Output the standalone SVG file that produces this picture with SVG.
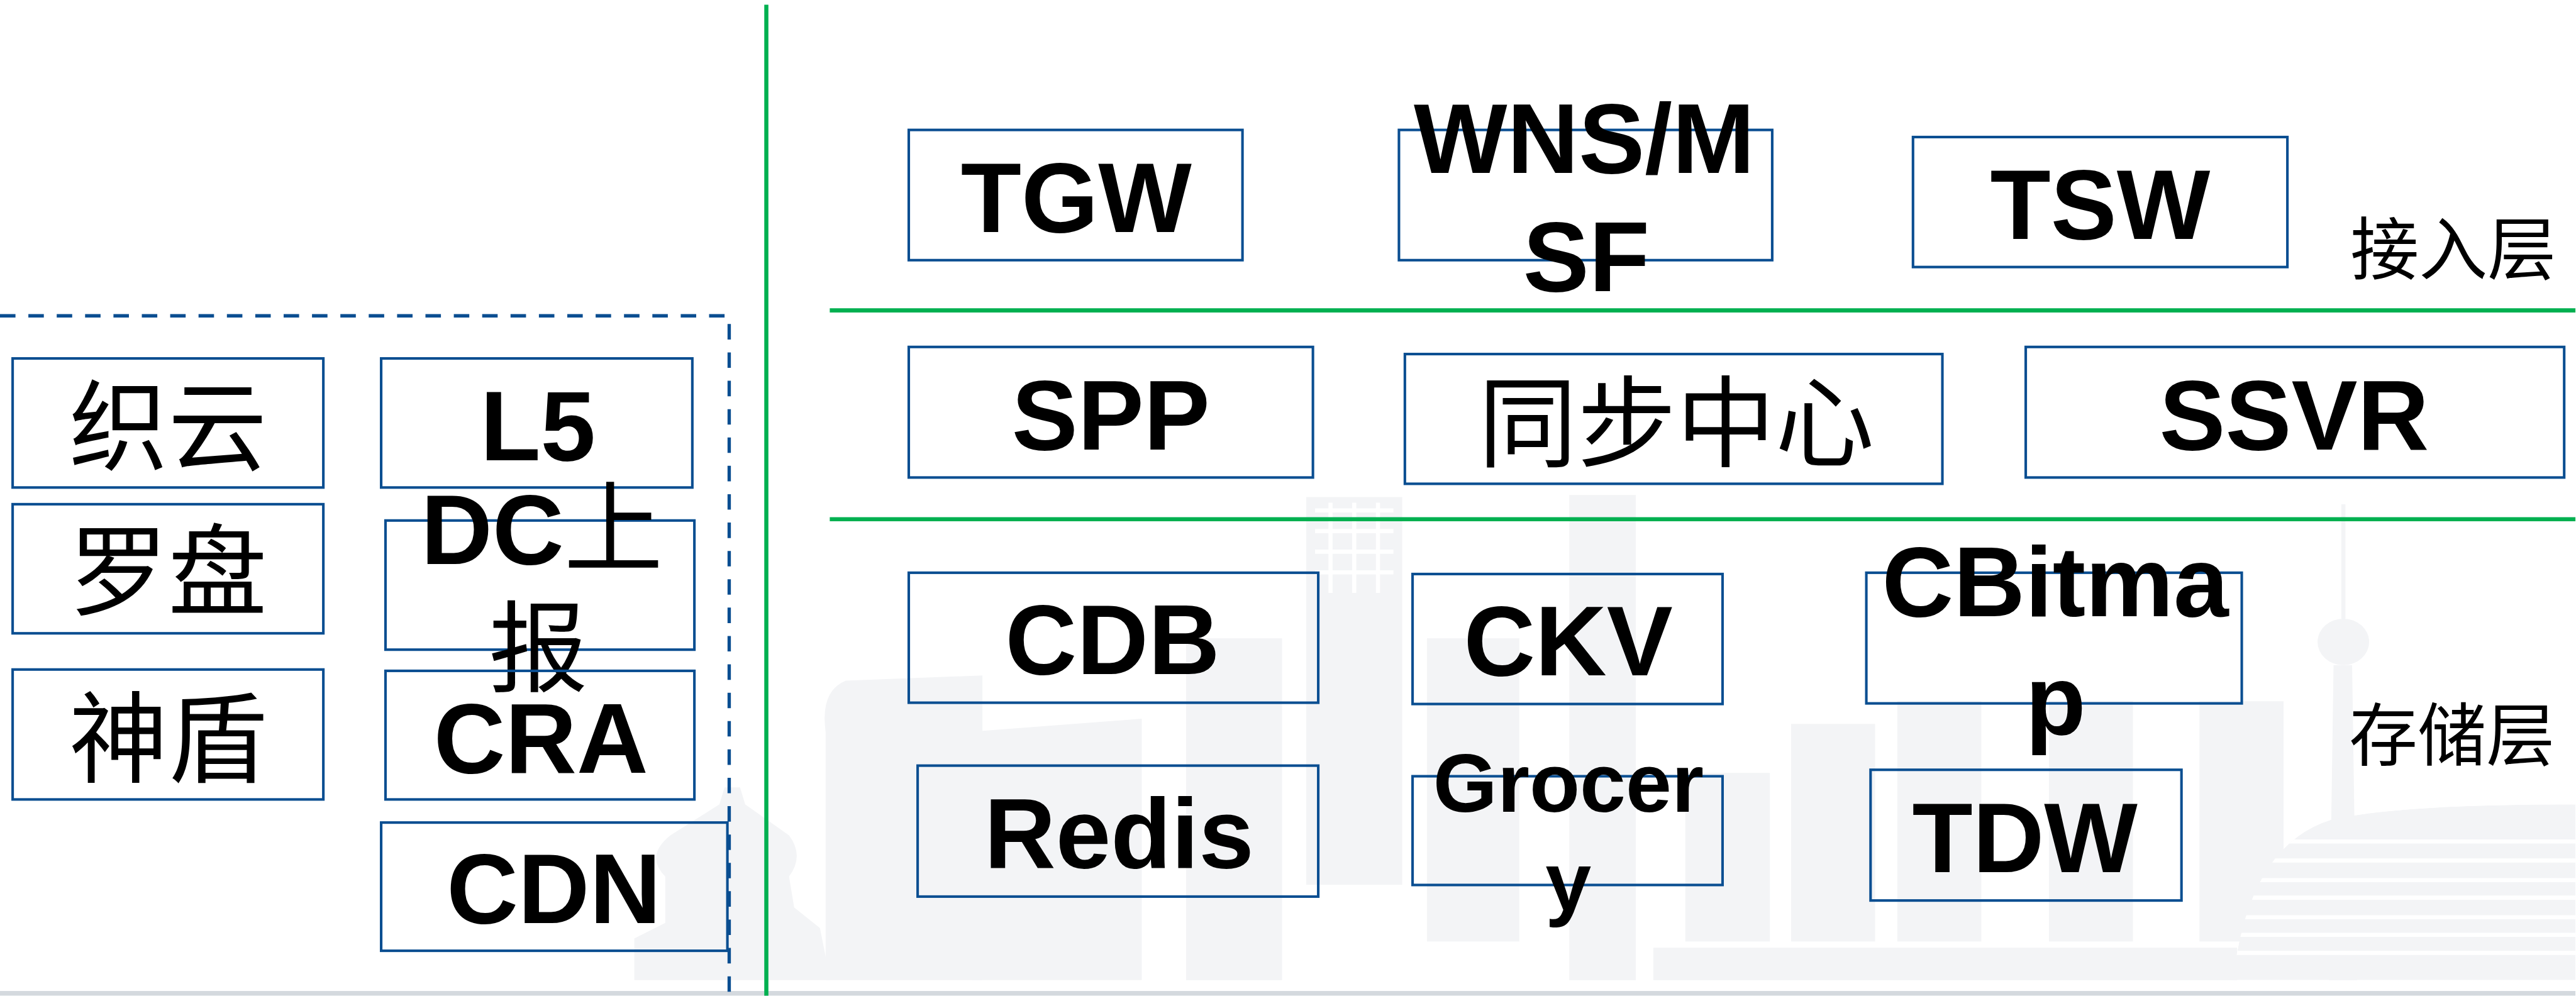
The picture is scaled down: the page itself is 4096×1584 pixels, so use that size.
<svg xmlns="http://www.w3.org/2000/svg" width="4096" height="1584" viewBox="0 0 4096 1584">
  <style>
    .box { fill: none; stroke: #0A4E91; stroke-width: 5; }
    .lat { font-family: "Liberation Sans", Arial, sans-serif; font-weight: bold; font-size: 192px; fill: #000; text-anchor: middle; }
    .cjk { font-family: "Noto Sans CJK SC", "Noto Sans CJK TC", sans-serif; font-weight: normal; font-size: 192px; fill: #000; text-anchor: middle; }
    .lbl { font-family: "Noto Sans CJK SC", "Noto Sans CJK TC", sans-serif; font-size: 133px; fill: #000; text-anchor: middle; }
    .wm { fill: #F3F4F6; }
    .wm-line { stroke: #FFFFFF; stroke-width: 8; fill: none; }
    .divider { stroke: #00B050; stroke-width: 8; fill: none; }
    .frame { fill: none; stroke: #0A4E91; stroke-width: 6.5; stroke-dasharray: 30 25; }
  </style>
  <defs>
    <clipPath id="dome-clip">
      <path d="M4330,1901 Q4360,1640 4520,1590 Q4650,1560 4994,1560 V1901 Z"/>
    </clipPath>
  </defs>

  <rect x="0" y="0" width="4096" height="1584" fill="#FFFFFF"/>

  <g transform="scale(0.82)">
    <!-- faint skyline backdrop -->
    <g id="skyline">
      <path class="wm" d="M1230,1901 L1230,1820 L1290,1790 L1290,1700 Q1250,1660 1300,1620 L1395,1560 L1405,1527 L1435,1527 L1445,1560 L1530,1620 Q1560,1660 1530,1700 L1540,1760 L1590,1800 L1610,1901 Z"/>
      <path class="wm" d="M1601,1901 V1420 Q1590,1340 1640,1320 L1905,1310 V1901 Z"/>
      <path class="wm" d="M1886,1419 L2214,1394 L2214,1901 L1886,1901 Z"/>
      <rect class="wm" x="2300" y="1238" width="186" height="663"/>
      <rect class="wm" x="2533" y="964" width="186" height="752"/>
      <path class="wm-line" d="M2550,990 H2702 M2550,1030 H2702 M2550,1070 H2702 M2550,1110 H2702 M2580,975 V1150 M2626,975 V1150 M2672,975 V1150" stroke-width="5"/>
      <rect class="wm" x="2767" y="1238" width="179" height="588"/>
      <rect class="wm" x="3043" y="960" width="129" height="941"/>
      <rect class="wm" x="3268" y="1499" width="164" height="327"/>
      <rect class="wm" x="3473" y="1404" width="163" height="422"/>
      <rect class="wm" x="3679" y="1360" width="163" height="466"/>
      <rect class="wm" x="3973" y="1360" width="163" height="466"/>
      <rect class="wm" x="4265" y="1360" width="163" height="466"/>
      <rect class="wm" x="3206" y="1838" width="1132" height="63"/>
      <rect class="wm" x="4540" y="978" width="8" height="222"/>
      <ellipse class="wm" cx="4544" cy="1245" rx="50" ry="45"/>
      <path class="wm" d="M4525,1290 L4561,1290 L4570,1901 L4516,1901 Z"/>
      <g clip-path="url(#dome-clip)">
        <path class="wm" d="M4330,1901 Q4360,1640 4520,1590 Q4650,1560 4994,1560 V1901 Z"/>
        <path class="wm-line" d="M4300,1632 H4994 M4300,1669 H4994 M4300,1707 H4994 M4300,1741 H4994 M4300,1779 H4994 M4300,1813 H4994 M4300,1848 H4994"/>
      </g>
    </g>

    <!-- footer band -->
    <rect x="0" y="1922" width="4994" height="9" fill="#D4D9DE"/>

    <!-- layer dividers -->
    <g id="connectors">
      <line class="divider" x1="1486" y1="9" x2="1486" y2="1931"/>
      <line class="divider" x1="1609" y1="602" x2="4994" y2="602"/>
      <line class="divider" x1="1609" y1="1007" x2="4994" y2="1007"/>
    </g>

    <!-- dashed client frame -->
    <g id="client-frame">
      <path class="frame" d="M0,612.5 H1414 V1935"/>
    </g>

    <!-- client-side services -->
    <g id="node-zhiyun">
      <rect class="box" x="24.5" y="695.2" width="602.5" height="250.3"/>
      <text class="cjk" x="326" y="898">织云</text>
    </g>
    <g id="node-luopan">
      <rect class="box" x="24.5" y="977.9" width="602.5" height="250.4"/>
      <text class="cjk" x="326" y="1178">罗盘</text>
    </g>
    <g id="node-shendun">
      <rect class="box" x="24.5" y="1298.5" width="602.5" height="252"/>
      <text class="cjk" x="326" y="1502">神盾</text>
    </g>
    <g id="node-l5">
      <rect class="box" x="739.1" y="695.2" width="603.4" height="250.3"/>
      <text class="lat" x="1043" y="892.6">L5</text>
    </g>
    <g id="node-dc">
      <rect class="box" x="747.5" y="1009.5" width="599" height="250.5"/>
      <text class="lat" x="1050.8" y="1094.3">DC<tspan class="cjk" style="text-anchor:start">上</tspan></text>
      <text class="cjk" x="1044" y="1327">报</text>
    </g>
    <g id="node-cra">
      <rect class="box" x="747.5" y="1301.1" width="599" height="249.4"/>
      <text class="lat" x="1049" y="1498.6">CRA</text>
    </g>
    <g id="node-cdn">
      <rect class="box" x="739.1" y="1595.3" width="671.4" height="248.7"/>
      <text class="lat" x="1074" y="1790">CDN</text>
    </g>

    <!-- access layer -->
    <g id="node-tgw">
      <rect class="box" x="1762.2" y="252" width="647.1" height="252.6"/>
      <text class="lat" x="2087" y="450.5">TGW</text>
    </g>
    <g id="node-wns">
      <rect class="box" x="2712.7" y="252" width="723.8" height="252.6"/>
      <text class="lat" x="3072" y="335.2">WNS/M</text>
      <text class="lat" x="3076" y="564.3">SF</text>
    </g>
    <g id="node-tsw">
      <rect class="box" x="3709.5" y="265.8" width="726" height="252.1"/>
      <text class="lat" x="4072.5" y="463.3">TSW</text>
    </g>
    <text class="lbl" x="4757" y="531.5">接入层</text>

    <!-- logic layer -->
    <g id="node-spp">
      <rect class="box" x="1762.2" y="672.9" width="783.7" height="253.2"/>
      <text class="lat" x="2154" y="871.4">SPP</text>
    </g>
    <g id="node-sync">
      <rect class="box" x="2724.2" y="686.7" width="1042.3" height="251.6"/>
      <text class="cjk" x="3250.5" y="890.6">同步中心</text>
    </g>
    <g id="node-ssvr">
      <rect class="box" x="3928.1" y="672.9" width="1044.1" height="253.2"/>
      <text class="lat" x="4448.6" y="871.4">SSVR</text>
    </g>

    <!-- storage layer -->
    <g id="node-cdb">
      <rect class="box" x="1762.2" y="1110.8" width="794" height="252.1"/>
      <text class="lat" x="2157.5" y="1307.9">CDB</text>
    </g>
    <g id="node-ckv">
      <rect class="box" x="2739.1" y="1113.3" width="601.1" height="252.1"/>
      <text class="lat" x="3041" y="1309.7">CKV</text>
    </g>
    <g id="node-cbitmap">
      <rect class="box" x="3619" y="1110.8" width="728" height="253.4"/>
      <text class="lat" x="3985.5" y="1194.6">CBitma</text>
      <text class="lat" x="3986" y="1424.6">p</text>
    </g>
    <g id="node-redis">
      <rect class="box" x="1779.4" y="1484.9" width="776.8" height="254"/>
      <text class="lat" x="2170" y="1683.2">Redis</text>
    </g>
    <g id="node-grocery">
      <rect class="box" x="2739.1" y="1505.5" width="601.1" height="210.9"/>
      <text class="lat" x="3041.4" y="1574.4" style="font-size:160px">Grocer</text>
      <text class="lat" x="3041" y="1766.4" style="font-size:160px">y</text>
    </g>
    <g id="node-tdw">
      <rect class="box" x="3627.2" y="1493" width="602.9" height="253.5"/>
      <text class="lat" x="3926.5" y="1691.4">TDW</text>
    </g>
    <text class="lbl" x="4754.5" y="1474.5">存储层</text>
  </g>
</svg>
